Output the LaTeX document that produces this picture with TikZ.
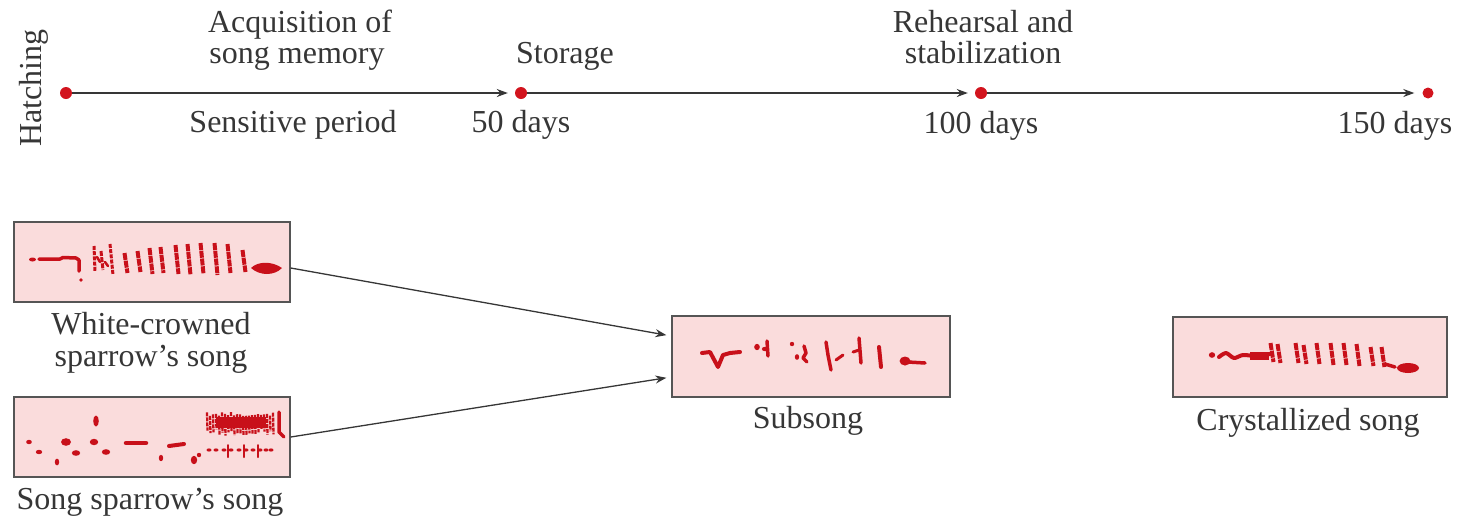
\documentclass[tikz,border=0pt]{standalone}
\usepackage{fontspec}
\setmainfont{Liberation Serif}
\usetikzlibrary{arrows.meta}

\definecolor{ink}{HTML}{363636}
\definecolor{dotred}{HTML}{D2141E}
\definecolor{songred}{HTML}{C8101A}
\definecolor{panel}{HTML}{FADCDC}
\definecolor{frame}{HTML}{555555}

\tikzset{
  lbl/.style={font=\fontsize{32}{33}\selectfont, text=ink, inner sep=0pt, anchor=base},
  tdot/.style={circle, fill=dotred, inner sep=0pt, minimum size=12pt},
  link/.style={draw=ink, line width=1.3pt, -{Stealth[length=11pt,width=8pt]}},
  sono/.style={draw=frame, fill=panel, line width=1.4pt, minimum width=276pt,
               minimum height=80pt, inner sep=0pt},
  trace/.style={draw=songred, line width=3.2pt, line cap=round, line join=round},
  broken/.style={draw=songred, line width=4pt, line cap=butt, dash pattern=on 7pt off 0.8pt},
}

\begin{document}
\begin{tikzpicture}[x=1pt, y=-1pt]
\useasboundingbox (0,0) rectangle (1459,515);

% ---- time line ----
\node[tdot] (h0)   at (66,93)   {};
\node[tdot] (d50)  at (521,93)  {};
\node[tdot] (d100) at (981,93)  {};
\node[tdot, minimum size=11pt] (d150) at (1428,93) {};

\draw[link, shorten >=7pt] (h0) -- (d50);
\draw[link, shorten >=7pt] (d50) -- (d100);
\draw[link, shorten >=8pt] (d100) -- (d150);

\node[lbl, rotate=90] (hatch) at (41,88) {Hatching};
\node[lbl] (acq1) at (300,32)  {Acquisition of};
\node[lbl] (acq2) at (297,63)  {song memory};
\node[lbl] (sens) at (293,132) {Sensitive period};
\node[lbl] (stor) at (565,63)  {Storage};
\node[lbl] (t50)  at (521,132) {50 days};
\node[lbl] (reh1) at (983,32)  {Rehearsal and};
\node[lbl] (reh2) at (983,63)  {stabilization};
\node[lbl] (t100) at (981,133) {100 days};
\node[lbl] (t150) at (1395,133) {150 days};

% ---- sonogram panels ----
\node[sono] (wc)  at (152,262) {};
\node[sono] (ss)  at (152,437) {};
\node[sono, minimum width=278pt, minimum height=81pt] (sub) at (811,356.5) {};
\node[sono, minimum width=274pt] (cry) at (1310,357) {};

\node[lbl] (wcl1) at (151,334) {White-crowned};
\node[lbl] (wcl2) at (151,366) {sparrow’s song};
\node[lbl] (ssl)  at (150,509) {Song sparrow’s song};
\node[lbl] (subl) at (808,428) {Subsong};
\node[lbl] (cryl) at (1308,430) {Crystallized song};

\draw[link, shorten >=5pt] ([yshift=-6pt]wc.east) -- ([yshift=20.5pt]sub.west);
\draw[link, shorten >=5pt] (ss.east) -- ([yshift=-20.5pt]sub.west);

% ---- white-crowned sparrow sonogram ----
\fill[songred] (32.5,259.5) ellipse [x radius=3.5, y radius=2];
\draw[trace, line width=3.5pt] (39,259) -- (60,259) -- (63,257.5) -- (76,258) -- (79,260) -- (79,271);
\fill[songred] (81,280) circle (1.8);
\draw[broken, line width=3pt, dash pattern=on 4pt off 1.2pt] (94,246) -- (95,271);
\draw[broken, line width=3pt, dash pattern=on 5pt off 1.2pt] (101,251) -- (103,270);
\draw[broken, line width=3pt, dash pattern=on 4pt off 1.2pt] (110,244) -- (113,275);
\draw[trace, line width=2.5pt] (97,257) -- (100,262);
\draw[trace, line width=2.5pt] (105,262) -- (108,266);
\foreach \x/\ya/\yb in {126/253/273, 139/251/272, 151/248/274, 162/247/273, 177/245/274,
                        189/244/275, 202/243/274, 216/243/275, 229/244/273, 244/250/272}
  \draw[broken] (\x-1.5,\ya) -- (\x+1.5,\yb);
\fill[songred] (251,268) .. controls (258,261) and (272,261) .. (282,268)
               .. controls (274,276) and (260,276) .. (251,268) -- cycle;

% ---- song sparrow sonogram ----
\foreach \x/\y/\a/\b in {29/442/2.8/2.2, 39/452/3.2/2.2, 57/462/2.2/3.4, 66/442/5/3.8, 76/453/4.2/2.8,
                         96/421/2.8/5.5, 94/442/4.2/3.2, 106/452/4.2/2.8, 161/458/2.2/3.2,
                         194/460/3.2/4.2, 199/455/2.2/2.2}
  \fill[songred] (\x,\y) ellipse [x radius=\a, y radius=\b];
\draw[trace, line width=4.5pt] (126,443) -- (146,443);
\draw[trace, line width=4pt] (169,446) -- (184,444);
\pgfmathsetseed{3}
\foreach \i in {0,...,22} {
  \pgfmathsetmacro\xx{207+3*\i}
  \pgfmathsetmacro\ya{412+4*rnd}
  \pgfmathsetmacro\yb{428+8*rnd}
  \draw[songred, line width=2.3pt, dash pattern=on 4pt off 1pt] (\xx,\ya) -- (\xx+0.5,\yb);
}
\fill[songred] (216,417) rectangle (266,428);
\draw[trace, line width=3.5pt] (279,412) -- (279,432) -- (284,437);
\foreach \x in {209,216,224,231,239,246,253,260,266,271}
  \fill[songred] (\x,450) ellipse [x radius=2.5, y radius=1.6];
\foreach \x in {228,244,258}
  \draw[trace, line width=2pt] (\x,445) -- (\x,457);

% ---- subsong sonogram ----
\draw[trace, line width=4pt] (702,353) -- (710,352) -- (718,367) -- (723,355) -- (730,353) -- (740,352);
\fill[songred] (757,347) ellipse [x radius=2.8, y radius=3.2];
\draw[trace, line width=3.5pt] (767,341) -- (768,356);
\fill[songred] (765,349) ellipse [x radius=3.2, y radius=2.2];
\fill[songred] (792,344) circle (2.2);
\fill[songred] (797,357) ellipse [x radius=2.2, y radius=2.8];
\draw[trace, line width=3.5pt] (804,346) -- (806,353) -- (803,358) -- (807,362);
\draw[trace, line width=3.5pt] (826,342) -- (828,355) -- (831,370);
\draw[trace, line width=3pt] (836,360) -- (843,355);
\draw[trace, line width=3.5pt] (859,338) -- (861,363);
\draw[trace, line width=3pt] (853,352) -- (859,350);
\draw[trace, line width=4pt] (879,347) -- (881,367);
\fill[songred] (905,361) ellipse [x radius=5.5, y radius=4.5];
\draw[trace, line width=3.5pt] (908,362) -- (925,363);

% ---- crystallized song sonogram ----
\fill[songred] (1212,355) ellipse [x radius=3.2, y radius=2.8];
\draw[trace, line width=4pt] plot[smooth] coordinates
  {(1219,357) (1226,353) (1234,358) (1243,355) (1256,356) (1270,354)};
\fill[songred] (1250,351.5) rectangle (1269,359.5);
\foreach \x/\ya/\yb in {1272/343/362, 1279/344/363, 1297/343/363, 1305/345/364, 1318/343/364,
                        1332/343/365, 1345/343/365, 1358/344/366, 1372/347/366, 1383/347/367}
  \draw[broken] (\x-1.5,\ya) -- (\x+1.5,\yb);
\draw[trace, line width=3.5pt] (1385,364) -- (1395,367);
\fill[songred] (1408,368) ellipse [x radius=11, y radius=5];
\end{tikzpicture}
\end{document}
